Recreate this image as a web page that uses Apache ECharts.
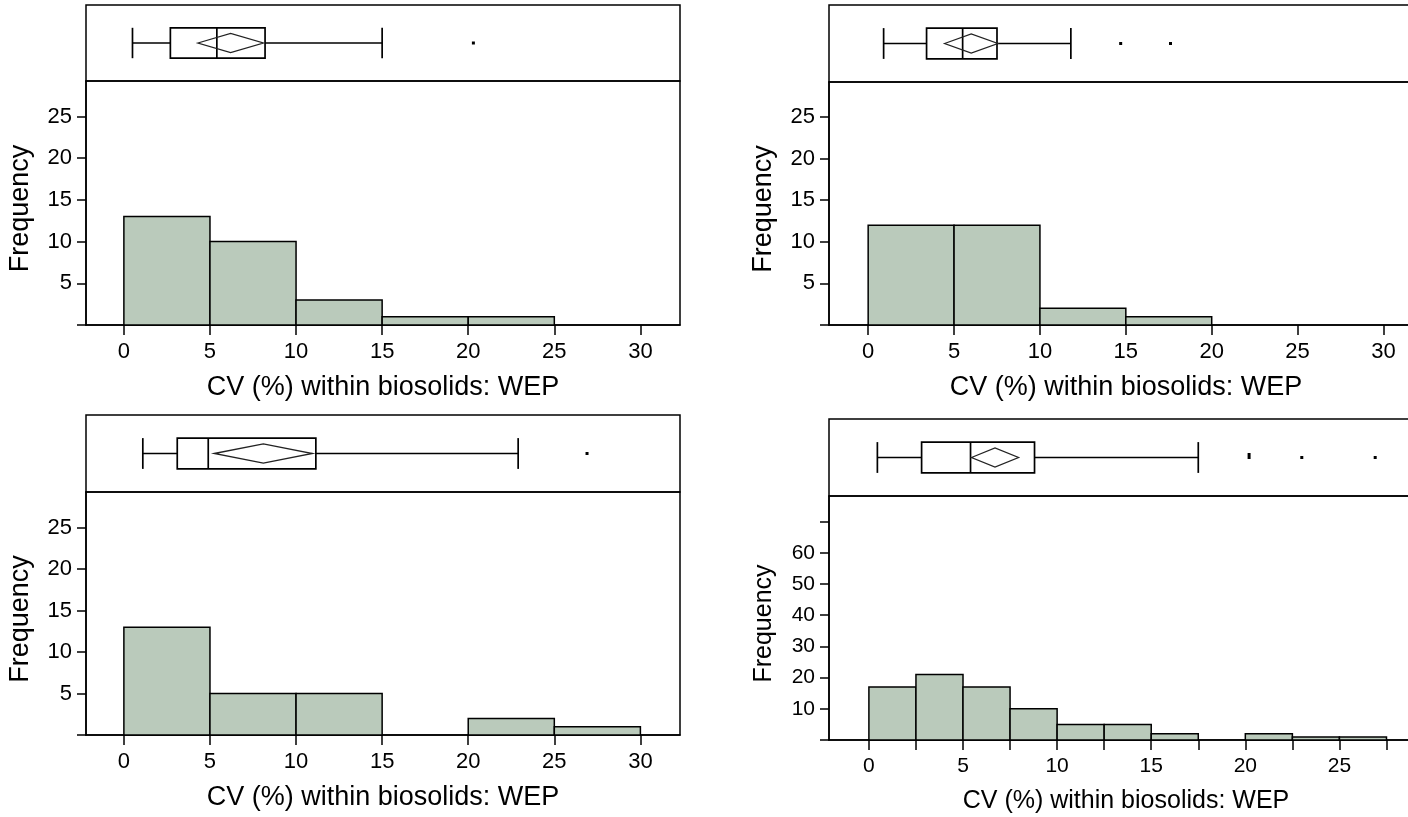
<!DOCTYPE html>
<html>
<head>
<meta charset="utf-8">
<script src="https://cdn.jsdelivr.net/npm/echarts@6/dist/echarts.min.js"></script>
<style>
  html, body { margin: 0; padding: 0; background: #ffffff; overflow: hidden; }
  #chart { width: 1430px; height: 817px; }
</style>
</head>
<body>
<div id="chart"></div>
<script>
// ---- Histogram bins (bin edges) and frequencies for each panel ----
const edgesA = [0, 5, 10, 15, 20, 25];
const countsA = [13, 10, 3, 1, 1];
const edgesB = [0, 5, 10, 15, 20];
const countsB = [12, 12, 2, 1];
const edgesC = [0, 5, 10, 15, 20, 25, 30];
const countsC = [13, 5, 5, 0, 2, 1];
const edgesD = [0, 2.5, 5, 7.5, 10, 12.5, 15, 17.5, 20, 22.5, 25, 27.5];
const countsD = [17, 21, 17, 10, 5, 5, 2, 0, 2, 1, 1];

// ---- Box plot summaries: lower whisker, Q1, median, Q3, upper whisker ----
const boxA = [0.5, 2.7, 5.4, 8.2, 15.0];
const boxB = [0.9, 3.4, 5.5, 7.5, 11.8];
const boxC = [1.1, 3.1, 4.9, 11.15, 22.9];
const boxD = [0.45, 2.8, 5.4, 8.8, 17.5];
// mean and half-width of the mean diamond
const meanA = [6.2, 1.9];
const meanB = [6.0, 1.55];
const meanC = [8.1, 2.85];
const meanD = [6.7, 1.25];
// points beyond the whiskers
const outliersA = [20.3];
const outliersB = [14.7, 17.6];
const outliersC = [26.9];
const outliersD = [20.2, 20.2, 23.0, 26.9];

// ---- Tick positions and tick labels ----
const xTicks5 = [0, 5, 10, 15, 20, 25, 30];
const xLabels5 = [0, 5, 10, 15, 20, 25, 30];
const xTicks25 = [0, 2.5, 5, 7.5, 10, 12.5, 15, 17.5, 20, 22.5, 25, 27.5, 30];
const xLabels25 = [0, 5, 10, 15, 20, 25, 30];
const yTicksSmall = [0, 5, 10, 15, 20, 25];
const yLabelsSmall = [5, 10, 15, 20, 25];
const yTicksLarge = [0, 10, 20, 30, 40, 50, 60, 70];
const yLabelsLarge = [10, 20, 30, 40, 50, 60];

const xTitle = 'CV (%) within biosolids: WEP';
const yTitle = 'Frequency';

const FILL = '#BACABB';
const INK = '#000000';
const FONT = '"Liberation Sans", Arial, Helvetica, sans-serif';

// Panel layout in pixels plus axis extents
const panels = [
  { edges: edgesA, counts: countsA, box: boxA, mean: meanA, out: outliersA,
    left: 86, width: 594, top: 5, split: 81, bottom: 325,
    xMin: -2.2, xMax: 32.3, yMax: 29.25,
    xTicks: xTicks5, xLabels: xLabels5, yTicks: yTicksSmall, yLabels: yLabelsSmall,
    tick: 22, title: 27 },
  { edges: edgesB, counts: countsB, box: boxB, mean: meanB, out: outliersB,
    left: 829, width: 594, top: 5, split: 82, bottom: 325,
    xMin: -2.28, xMax: 32.3, yMax: 29.2,
    xTicks: xTicks5, xLabels: xLabels5, yTicks: yTicksSmall, yLabels: yLabelsSmall,
    tick: 22, title: 27 },
  { edges: edgesC, counts: countsC, box: boxC, mean: meanC, out: outliersC,
    left: 86, width: 594, top: 415, split: 492, bottom: 735,
    xMin: -2.2, xMax: 32.3, yMax: 29.3,
    xTicks: xTicks5, xLabels: xLabels5, yTicks: yTicksSmall, yLabels: yLabelsSmall,
    tick: 22, title: 27 },
  { edges: edgesD, counts: countsD, box: boxD, mean: meanD, out: outliersD,
    left: 829, width: 594, top: 419, split: 496, bottom: 740,
    xMin: -2.12, xMax: 29.44, yMax: 78.2,
    xTicks: xTicks25, xLabels: xLabels25, yTicks: yTicksLarge, yLabels: yLabelsLarge,
    tick: 21, title: 25 }
];

const grid = [], xAxis = [], yAxis = [], series = [];

function histItem(params, api) {
  const c = api.value(2);
  if (!c) return null;
  const p0 = api.coord([api.value(0), c]);
  const p1 = api.coord([api.value(1), 0]);
  return {
    type: 'rect',
    shape: { x: p0[0], y: p0[1], width: p1[0] - p0[0], height: p1[1] - p0[1] },
    style: { fill: FILL, stroke: INK, lineWidth: 1.5 }
  };
}

function boxItem(params, api) {
  const v = [0, 1, 2, 3, 4].map(i => api.value(i));
  const m = api.value(5), hw = api.value(6);
  const lo = api.coord([v[0], 0.5]), q1 = api.coord([v[1], 0.5]);
  const md = api.coord([v[2], 0.5]), q3 = api.coord([v[3], 0.5]);
  const hi = api.coord([v[4], 0.5]);
  const yT = api.coord([v[0], 0.7])[1], yB = api.coord([v[0], 0.3])[1];
  const yc = lo[1];
  const dT = api.coord([m, 0.625]), dB = api.coord([m, 0.375]);
  const dL = api.coord([m - hw, 0.5]), dR = api.coord([m + hw, 0.5]);
  const ls = { stroke: INK, lineWidth: 1.7, fill: null };
  return {
    type: 'group',
    children: [
      { type: 'line', shape: { x1: lo[0], y1: yc, x2: q1[0], y2: yc }, style: ls },
      { type: 'line', shape: { x1: q3[0], y1: yc, x2: hi[0], y2: yc }, style: ls },
      { type: 'line', shape: { x1: lo[0], y1: yT, x2: lo[0], y2: yB }, style: ls },
      { type: 'line', shape: { x1: hi[0], y1: yT, x2: hi[0], y2: yB }, style: ls },
      { type: 'rect', shape: { x: q1[0], y: yT, width: q3[0] - q1[0], height: yB - yT },
        style: { stroke: INK, lineWidth: 1.7, fill: 'none' } },
      { type: 'line', shape: { x1: md[0], y1: yT, x2: md[0], y2: yB }, style: ls },
      { type: 'polygon',
        shape: { points: [[dL[0], dL[1]], [dT[0], dT[1]], [dR[0], dR[1]], [dB[0], dB[1]]] },
        style: { stroke: '#222', lineWidth: 1.3, fill: 'none' } }
    ]
  };
}

function outlierItem(params, api) {
  const p = api.coord([api.value(0), 0.5]);
  const stack = api.value(1);
  return {
    type: 'rect',
    shape: { x: p[0] - 1.5, y: p[1] - 1.5 - stack * 3, width: 3, height: 3 },
    style: { fill: INK }
  };
}

panels.forEach((p, i) => {
  const gb = 2 * i, gh = 2 * i + 1;
  const frame = { show: true, borderColor: INK, borderWidth: 1.5, backgroundColor: 'transparent' };
  grid.push(Object.assign({ left: p.left, top: p.top, width: p.width, height: p.split - p.top }, frame));
  grid.push(Object.assign({ left: p.left, top: p.split, width: p.width, height: p.bottom - p.split }, frame));

  // box strip axes (hidden)
  xAxis.push({ gridIndex: gb, type: 'value', min: p.xMin, max: p.xMax, show: false });
  yAxis.push({ gridIndex: gb, type: 'value', min: 0, max: 1, show: false });

  // histogram axes
  xAxis.push({
    gridIndex: gh, type: 'value', min: p.xMin, max: p.xMax,
    axisLine: { show: true, onZero: false, lineStyle: { color: INK, width: 1.5 } },
    axisTick: { show: true, customValues: p.xTicks, length: 10, lineStyle: { color: INK, width: 1.5 } },
    axisLabel: { customValues: p.xLabels, margin: 16, color: INK, fontSize: p.tick, fontFamily: FONT },
    splitLine: { show: false },
    name: xTitle, nameLocation: 'middle', nameGap: 49,
    nameTextStyle: { color: INK, fontSize: p.title, fontFamily: FONT }
  });
  yAxis.push({
    gridIndex: gh, type: 'value', min: 0, max: p.yMax,
    axisLine: { show: true, onZero: false, lineStyle: { color: INK, width: 1.5 } },
    axisTick: { show: true, customValues: p.yTicks, length: 9, lineStyle: { color: INK, width: 1.5 } },
    axisLabel: { customValues: p.yLabels, margin: 14, color: INK, fontSize: p.tick, fontFamily: FONT,
                 padding: [7, 0, 0, 0] },
    splitLine: { show: false },
    name: yTitle, nameLocation: 'middle', nameGap: 52,
    nameTextStyle: { color: INK, fontSize: p.title, fontFamily: FONT, padding: [0, 11, 0, 0] }
  });

  const histData = p.counts.map((c, k) => [p.edges[k], p.edges[k + 1], c]);
  series.push({
    type: 'custom', xAxisIndex: gh, yAxisIndex: gh, renderItem: histItem,
    encode: { x: [0, 1], y: 2 }, data: histData, silent: true, z: 2
  });
  series.push({
    type: 'custom', xAxisIndex: gb, yAxisIndex: gb, renderItem: boxItem,
    encode: { x: [0, 1, 2, 3, 4] },
    data: [p.box.concat(p.mean)], silent: true, z: 3
  });
  const seen = {};
  const outData = p.out.map(v => {
    const k = String(v);
    const s = seen[k] || 0;
    seen[k] = s + 1;
    return [v, s];
  });
  series.push({
    type: 'custom', xAxisIndex: gb, yAxisIndex: gb, renderItem: outlierItem,
    encode: { x: 0 }, data: outData, silent: true, z: 3
  });
});

const chart = echarts.init(document.getElementById('chart'), null, { renderer: 'canvas' });
chart.setOption({
  animation: false,
  backgroundColor: '#ffffff',
  grid: grid, xAxis: xAxis, yAxis: yAxis, series: series
});
</script>
</body>
</html>
